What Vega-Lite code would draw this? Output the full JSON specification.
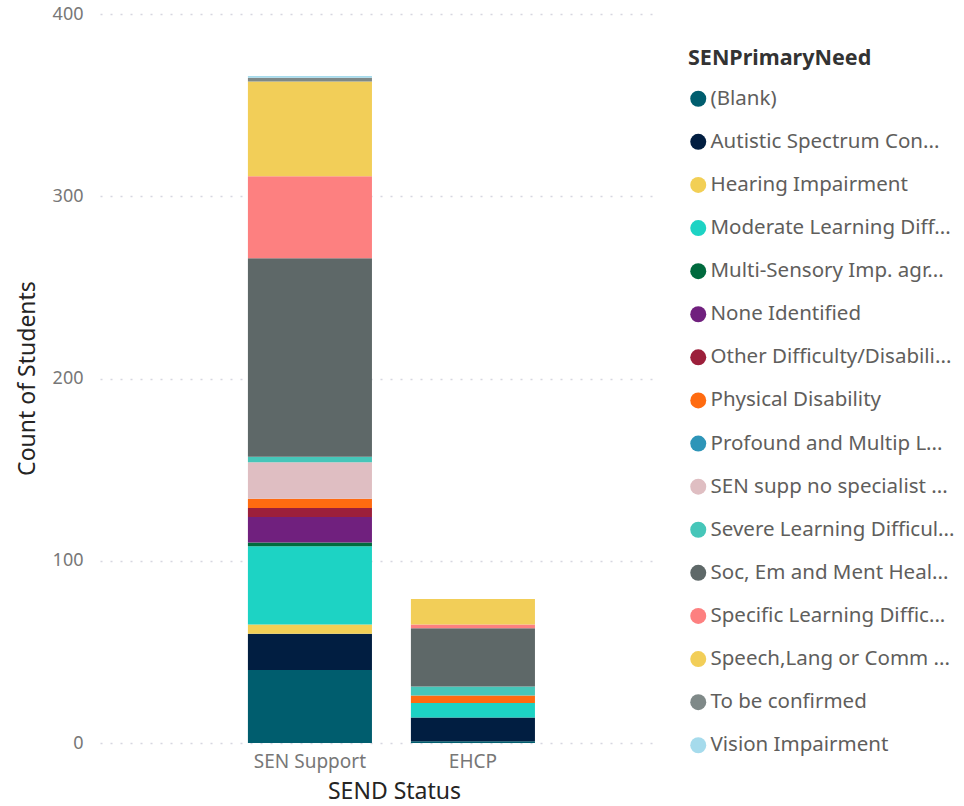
{
  "$schema": "https://vega.github.io/schema/vega-lite/v6.json",
  "width": 555,
  "height": 729,
  "autosize": {"type": "none"},
  "padding": {"left": 100, "top": 14, "right": 309, "bottom": 63},
  "background": "white",
  "config": {
    "view": {"stroke": null},
    "font": "Noto Sans"
  },
  "data": {
    "values": [
      {"status": "SEN Support", "need": "(Blank)", "count": 40},
      {"status": "SEN Support", "need": "Autistic Spectrum Con...", "count": 20},
      {"status": "SEN Support", "need": "Hearing Impairment", "count": 5},
      {"status": "SEN Support", "need": "Moderate Learning Diff...", "count": 43},
      {"status": "SEN Support", "need": "Multi-Sensory Imp. agr...", "count": 2},
      {"status": "SEN Support", "need": "None Identified", "count": 14},
      {"status": "SEN Support", "need": "Other Difficulty/Disabili...", "count": 5},
      {"status": "SEN Support", "need": "Physical Disability", "count": 5},
      {"status": "SEN Support", "need": "SEN supp no specialist ...", "count": 20},
      {"status": "SEN Support", "need": "Severe Learning Difficul...", "count": 3},
      {"status": "SEN Support", "need": "Soc, Em and Ment Heal...", "count": 109},
      {"status": "SEN Support", "need": "Specific Learning Diffic...", "count": 45},
      {"status": "SEN Support", "need": "Speech,Lang or Comm ...", "count": 52},
      {"status": "SEN Support", "need": "To be confirmed", "count": 2},
      {"status": "SEN Support", "need": "Vision Impairment", "count": 1},
      {"status": "EHCP", "need": "(Blank)", "count": 1},
      {"status": "EHCP", "need": "Autistic Spectrum Con...", "count": 13},
      {"status": "EHCP", "need": "Moderate Learning Diff...", "count": 8},
      {"status": "EHCP", "need": "Physical Disability", "count": 4},
      {"status": "EHCP", "need": "Severe Learning Difficul...", "count": 5},
      {"status": "EHCP", "need": "Soc, Em and Ment Heal...", "count": 32},
      {"status": "EHCP", "need": "Specific Learning Diffic...", "count": 2},
      {"status": "EHCP", "need": "Speech,Lang or Comm ...", "count": 14}
    ]
  },
  "mark": {"type": "bar"},
  "encoding": {
    "x": {
      "field": "status",
      "type": "nominal",
      "sort": ["SEN Support", "EHCP"],
      "scale": {"paddingInner": 0.239, "paddingOuter": 0.822, "align": 0.552},
      "axis": {
        "title": "SEND Status",
        "labelAngle": 0,
        "labelFontSize": 19,
        "labelColor": "#777777",
        "labelPadding": 9,
        "ticks": false,
        "domain": false,
        "titleFontSize": 23,
        "titleFontWeight": "normal",
        "titleColor": "#252423",
        "titlePadding": 9,
        "titleX": 294
      }
    },
    "y": {
      "field": "count",
      "type": "quantitative",
      "aggregate": "sum",
      "stack": "zero",
      "scale": {"domain": [0, 400], "nice": false},
      "axis": {
        "title": "Count of Students",
        "values": [0, 100, 200, 300, 400],
        "labelFontSize": 18,
        "labelColor": "#777777",
        "labelPadding": 17,
        "ticks": false,
        "domain": false,
        "grid": true,
        "gridColor": "#D6D6E0",
        "gridDash": [2, 8],
        "gridWidth": 1.5,
        "titleFontSize": 23,
        "titleFontWeight": "normal",
        "titleColor": "#252423",
        "titleX": -73,
        "titleY": 364,
        "titleBaseline": "middle",
        "titleAngle": -90
      }
    },
    "order": {"field": "need", "sort": "ascending"},
    "color": {
      "field": "need",
      "type": "nominal",
      "scale": {
        "domain": ["(Blank)", "Autistic Spectrum Con...", "Hearing Impairment", "Moderate Learning Diff...", "Multi-Sensory Imp. agr...", "None Identified", "Other Difficulty/Disabili...", "Physical Disability", "Profound and Multip L...", "SEN supp no specialist ...", "Severe Learning Difficul...", "Soc, Em and Ment Heal...", "Specific Learning Diffic...", "Speech,Lang or Comm ...", "To be confirmed", "Vision Impairment"],
        "range": ["#005D6E", "#011E41", "#F2CF55", "#1DD3C4", "#006A3E", "#70207E", "#9C1F3B", "#FF6B10", "#2E95B8", "#DFBEC2", "#46C6B9", "#5E6868", "#FD8080", "#F2CE58", "#7F8988", "#A6DBEC"]
      },
      "legend": {
        "title": "SENPrimaryNeed",
        "orient": "none",
        "legendX": 588,
        "legendY": 34,
        "padding": 0,
        "symbolType": "circle",
        "symbolSize": 256,
        "symbolStrokeWidth": 0,
        "labelFontSize": 20.5,
        "labelColor": "#605E5C",
        "labelLimit": 280,
        "labelOffset": 2,
        "rowPadding": 22.1,
        "titleFontSize": 21.5,
        "titleLimit": 300,
        "titleFontWeight": "bold",
        "titleColor": "#333333",
        "titlePadding": 19
      }
    }
  }
}
